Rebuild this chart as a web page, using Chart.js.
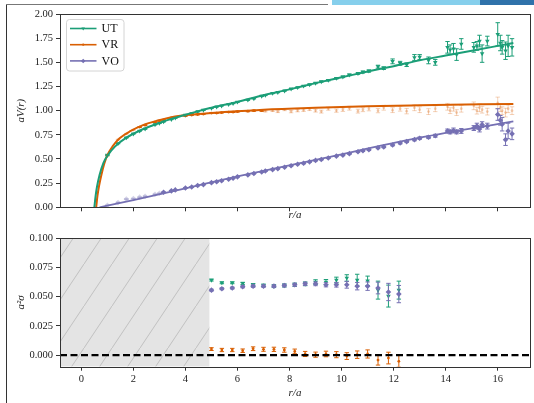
<!DOCTYPE html>
<html lang="en">
<head>
<meta charset="utf-8">
<title>aV(r) and a^2 sigma vs r/a</title>
<script src="https://cdn.jsdelivr.net/npm/chart.js@4.4.1/dist/chart.umd.min.js"></script>
<style>
  html, body { margin: 0; padding: 0; background: #fff; }
  #page { position: relative; width: 534px; height: 403px; overflow: hidden; background: #fff; }
  #page canvas { position: absolute; left: 0; }
  #cvTop { top: 0; }
  #cvBot { top: 222px; }
  .edge-left { position: absolute; left: 6px; top: 4px; width: 1px; height: 400px; background: #333; }
  .edge-top { position: absolute; left: 6px; top: 4px; width: 322px; height: 1px; background: #777; }
  .deco1 { position: absolute; left: 332px; top: 0; width: 210px; height: 5px; background: #86cfec; }
  .deco2 { position: absolute; left: 480px; top: 0; width: 60px; height: 5px; background: #2f72aa; }
</style>
</head>
<body>
<div id="page">
  <div class="edge-left"></div><div class="edge-top"></div>
  <div class="deco1"></div><div class="deco2"></div>
  <canvas id="cvTop" width="534" height="222"></canvas>
  <canvas id="cvBot" width="534" height="181"></canvas>
</div>
<script>
// ==========================================
// 1. Data
// ==========================================
// top panel: aV(r) for the three actions
const radii = [
  1.0, 1.41, 1.73, 2.0, 2.24, 2.45, 2.83, 3.0, 3.16, 3.46,
  3.61, 4.0, 4.24, 4.47, 4.69, 5.0, 5.2, 5.39, 5.66, 5.83,
  6.0, 6.4, 6.63, 6.93, 7.07, 7.35, 7.55, 7.81, 8.06, 8.31,
  8.54, 8.77, 9.0, 9.22, 9.49, 9.8, 10.05, 10.3, 10.63, 10.82,
  11.05, 11.4, 11.62, 11.96, 12.25, 12.5, 12.8, 13.0, 13.34, 13.6,
  14.07, 14.17, 14.3, 14.42, 14.6, 15.08, 15.2, 15.3, 15.4, 15.6,
  16.0, 16.1, 16.17, 16.3, 16.4, 16.55
];
const potUT = [
  0.54, 0.66, 0.72, 0.76, 0.79, 0.81, 0.855, 0.87, 0.885, 0.91,
  0.925, 0.955, 0.97, 0.99, 1.005, 1.025, 1.04, 1.05, 1.065, 1.075,
  1.09, 1.11, 1.125, 1.15, 1.16, 1.18, 1.19, 1.205, 1.225, 1.24,
  1.255, 1.27, 1.285, 1.30, 1.315, 1.335, 1.35, 1.37, 1.385, 1.40,
  1.41, 1.455, 1.44, 1.51, 1.49, 1.475, 1.55, 1.555, 1.52, 1.50,
  1.655, 1.63, 1.64, 1.58, 1.69, 1.655, 1.67, 1.72, 1.59, 1.72,
  1.79, 1.70, 1.655, 1.62, 1.67, 1.655
];
const errUT = [
  0.003, 0.003, 0.003, 0.003, 0.003, 0.003, 0.003, 0.003, 0.003, 0.003,
  0.003, 0.003, 0.003, 0.003, 0.003, 0.003, 0.003, 0.003, 0.003, 0.003,
  0.004, 0.004, 0.004, 0.004, 0.004, 0.004, 0.004, 0.004, 0.004, 0.004,
  0.005, 0.005, 0.006, 0.006, 0.007, 0.007, 0.008, 0.008, 0.009, 0.010,
  0.012, 0.015, 0.014, 0.025, 0.02, 0.018, 0.03, 0.025, 0.035, 0.03,
  0.06, 0.05, 0.055, 0.06, 0.055, 0.05, 0.045, 0.06, 0.09, 0.05,
  0.12, 0.08, 0.07, 0.09, 0.11, 0.09
];
const potVR = [
  0.53, 0.70, 0.76, 0.80, 0.83, 0.85, 0.88, 0.895, 0.905, 0.925,
  0.93, 0.945, 0.955, 0.96, 0.965, 0.975, 0.975, 0.98, 0.985, 0.985,
  0.99, 0.995, 1.0, 1.0, 0.995, 1.0, 0.99, 1.01, 0.99, 1.0,
  1.005, 1.015, 1.0, 0.99, 1.02, 1.0, 1.01, 1.025, 0.995, 1.01,
  1.02, 1.0, 1.03, 1.005, 1.02, 0.995, 1.03, 1.01, 0.99, 1.02,
  1.04, 1.0, 1.03, 0.98, 1.02, 1.05, 1.0, 1.03, 1.01, 0.99,
  1.08, 1.03, 1.0, 0.98, 1.02, 1.0
];
const errVR = [
  0.004, 0.004, 0.004, 0.004, 0.004, 0.004, 0.004, 0.004, 0.004, 0.004,
  0.004, 0.004, 0.004, 0.004, 0.004, 0.004, 0.004, 0.004, 0.004, 0.004,
  0.005, 0.006, 0.006, 0.007, 0.008, 0.009, 0.01, 0.01, 0.012, 0.012,
  0.013, 0.014, 0.015, 0.015, 0.016, 0.017, 0.018, 0.02, 0.02, 0.02,
  0.022, 0.022, 0.025, 0.025, 0.025, 0.028, 0.03, 0.03, 0.03, 0.03,
  0.035, 0.03, 0.035, 0.03, 0.035, 0.04, 0.035, 0.04, 0.035, 0.035,
  0.06, 0.04, 0.04, 0.045, 0.04, 0.04
];
const potVO = [
  0.02, 0.05, 0.085, 0.09, 0.105, 0.115, 0.135, 0.145, 0.155, 0.17,
  0.18, 0.20, 0.21, 0.225, 0.235, 0.255, 0.265, 0.275, 0.29, 0.30,
  0.315, 0.335, 0.35, 0.365, 0.375, 0.39, 0.40, 0.415, 0.43, 0.445,
  0.455, 0.47, 0.485, 0.495, 0.51, 0.53, 0.54, 0.555, 0.575, 0.585,
  0.595, 0.615, 0.625, 0.645, 0.665, 0.68, 0.70, 0.715, 0.725, 0.74,
  0.79, 0.78, 0.795, 0.78, 0.79, 0.82, 0.84, 0.81, 0.855, 0.84,
  0.96, 0.90, 0.86, 0.70, 0.79, 0.76
];
const errVO = [
  0.003, 0.003, 0.003, 0.003, 0.003, 0.003, 0.003, 0.003, 0.003, 0.003,
  0.003, 0.003, 0.003, 0.003, 0.003, 0.003, 0.003, 0.003, 0.003, 0.003,
  0.004, 0.004, 0.004, 0.004, 0.004, 0.004, 0.004, 0.004, 0.004, 0.004,
  0.005, 0.005, 0.005, 0.005, 0.005, 0.006, 0.006, 0.006, 0.006, 0.006,
  0.007, 0.008, 0.008, 0.009, 0.01, 0.01, 0.012, 0.012, 0.014, 0.015,
  0.02, 0.02, 0.025, 0.02, 0.025, 0.025, 0.03, 0.03, 0.03, 0.03,
  0.06, 0.05, 0.07, 0.06, 0.08, 0.06
];

// fitted curves (sampled by eye from the plotted lines)
const fitUTr = [0.50, 0.55, 0.60, 0.70, 0.85, 1.02, 1.3, 1.73, 2.3, 2.88, 3.4, 3.9, 4.5, 5, 6, 7, 8, 9, 10, 11, 12, 13, 14, 15, 16.6];
const fitUTv = [0.00, 0.12, 0.21, 0.334, 0.46, 0.54, 0.63, 0.72, 0.80, 0.86, 0.91, 0.95, 0.995, 1.03, 1.09, 1.16, 1.22, 1.285, 1.345, 1.405, 1.46, 1.52, 1.57, 1.62, 1.70];
const fitVRr = [0.57, 0.62, 0.68, 0.77, 0.88, 1.0, 1.2, 1.47, 1.9, 2.37, 2.9, 3.6, 4.5, 5.5, 7, 9, 11, 13, 16.6];
const fitVRv = [0.00, 0.12, 0.22, 0.334, 0.45, 0.54, 0.63, 0.714, 0.79, 0.85, 0.895, 0.94, 0.965, 0.985, 1.01, 1.03, 1.045, 1.055, 1.07];
const fitVOr = [0.7, 2, 4, 6, 9, 13, 16.6];
const fitVOv = [0.0, 0.075, 0.197, 0.32, 0.49, 0.72, 0.89];

// r ranges that entered each fit (points outside are drawn faint)
const fitRangeUT = [0, 17];
const fitRangeVR = [2.2, 7.0];
const fitRangeVO = [3.1, 17];

// bottom panel: a^2 sigma vs minimum r of the fit
const rMin = [5.0, 5.4, 5.8, 6.2, 6.6, 7.0, 7.4, 7.8, 8.2, 8.6, 9.0, 9.4, 9.8, 10.2, 10.6, 11.0, 11.4, 11.8, 12.2];
const sigUT = [0.0642, 0.0619, 0.0619, 0.0614, 0.0602, 0.0598, 0.059, 0.0596, 0.0602, 0.061, 0.0625, 0.0625, 0.0642, 0.066, 0.0642, 0.0636, 0.0556, 0.0505, 0.0556];
const errSigUT = [0.0008, 0.0008, 0.0008, 0.0009, 0.001, 0.001, 0.0012, 0.0013, 0.0014, 0.0016, 0.002, 0.0022, 0.0025, 0.0028, 0.005, 0.004, 0.0077, 0.0094, 0.0077];
const sigVR = [0.0051, 0.0043, 0.0043, 0.0037, 0.0054, 0.0049, 0.0049, 0.0043, 0.0031, 0.0009, 0.0003, 0.0009, 0.0003, -0.0009, 0.0003, 0.0009, -0.0043, -0.0026, -0.0054];
const errSigVR = [0.0012, 0.0014, 0.0014, 0.0015, 0.0016, 0.0017, 0.0018, 0.0019, 0.002, 0.0022, 0.0022, 0.0024, 0.0026, 0.0029, 0.0032, 0.0035, 0.0043, 0.005, 0.005];
const sigVO = [0.0556, 0.0568, 0.0574, 0.0585, 0.059, 0.059, 0.059, 0.0596, 0.0602, 0.061, 0.061, 0.0602, 0.0602, 0.0602, 0.059, 0.059, 0.0574, 0.054, 0.0522];
const errSigVO = [0.0008, 0.0008, 0.0008, 0.0009, 0.001, 0.001, 0.001, 0.0012, 0.0013, 0.0014, 0.0016, 0.0018, 0.002, 0.0029, 0.0032, 0.0036, 0.005, 0.0074, 0.0074];
const excludedR = [-0.82, 4.93];   // hatched band
const zeroLevel = 0;

// axes
const xLimits = [-0.82, 17.24];
const xTicks = [0, 2, 4, 6, 8, 10, 12, 14, 16];
const yTopLimits = [0, 2];
const yTopTicks = [0, 0.25, 0.5, 0.75, 1.0, 1.25, 1.5, 1.75, 2.0];
const yBotLimits = [-0.01, 0.1];
const yBotTicks = [0, 0.025, 0.05, 0.075, 0.1];

// ==========================================
// 2. Styles
// ==========================================
const C_UT = '#1b9e77', C_VR = '#d95f02', C_VO = '#7570b3';
const F_UT = 'rgba(27,158,119,0.3)', F_VR = 'rgba(217,95,2,0.28)', F_VO = 'rgba(117,112,179,0.3)';
const M_UT = { pointStyle: 'triangle', rotation: 180, pointRadius: 2.6 };
const M_VR = { pointStyle: 'circle', rotation: 0, pointRadius: 1.4 };
const M_VO = { pointStyle: 'rectRot', rotation: 0, pointRadius: 2.8 };

const SERIF = "'Liberation Serif', 'Times New Roman', serif";
Chart.defaults.font.family = SERIF;
Chart.defaults.font.size = 10.5;
Chart.defaults.color = '#222';

// ==========================================
// 3. Plugins: error bars, frame, legend
// ==========================================
const errorBars = {
  id: 'errorBars',
  beforeDatasetDraw(chart, args) {
    const ds = chart.data.datasets[args.index];
    if (!ds.errs) return;
    const { ctx, chartArea: a } = chart;
    const yScale = chart.scales.y;
    ctx.save();
    ctx.beginPath();
    ctx.rect(a.left, a.top, a.right - a.left, a.bottom - a.top);
    ctx.clip();
    ctx.strokeStyle = ds.borderColor;
    ctx.lineWidth = 1;
    args.meta.data.forEach((pt, i) => {
      const v = ds.data[i].y, e = ds.errs[i];
      const y1 = yScale.getPixelForValue(v - e);
      const y2 = yScale.getPixelForValue(v + e);
      ctx.beginPath();
      ctx.moveTo(pt.x, y1); ctx.lineTo(pt.x, y2);
      ctx.moveTo(pt.x - 2.2, y1); ctx.lineTo(pt.x + 2.2, y1);
      ctx.moveTo(pt.x - 2.2, y2); ctx.lineTo(pt.x + 2.2, y2);
      ctx.stroke();
    });
    ctx.restore();
  }
};

const frame = {
  id: 'frame',
  afterDatasetsDraw(chart) {
    const { ctx, chartArea: a } = chart;
    const l = Math.round(a.left) + 0.5, t = Math.round(a.top) + 0.5;
    const r = Math.round(a.right) + 0.5, b = Math.round(a.bottom) + 0.5;
    ctx.save();
    ctx.strokeStyle = '#333';
    ctx.lineWidth = 1;
    ctx.strokeRect(l, t, r - l, b - t);
    ctx.restore();
  }
};

const boxLegend = {
  id: 'boxLegend',
  afterDraw(chart) {
    const items = chart.data.datasets.filter(d => d.legendMarker);
    if (!items.length) return;
    const { ctx, chartArea: a } = chart;
    const x0 = a.left + 6.5, y0 = a.top + 5.5;
    ctx.save();
    ctx.beginPath();
    ctx.roundRect(x0, y0, 57.5, 51.5, 3);
    ctx.fillStyle = 'rgba(255,255,255,0.85)';
    ctx.fill();
    ctx.strokeStyle = '#d4d4d4';
    ctx.lineWidth = 1;
    ctx.stroke();
    items.forEach((ds, i) => {
      const y = y0 + 9 + i * 16.2;
      ctx.strokeStyle = ds.borderColor;
      ctx.lineWidth = 1.6;
      ctx.beginPath();
      ctx.moveTo(x0 + 3.5, y); ctx.lineTo(x0 + 30, y);
      ctx.stroke();
      ctx.fillStyle = ds.borderColor;
      const m = ds.legendMarker;
      Chart.helpers.drawPoint(ctx, { pointStyle: m.pointStyle, rotation: m.rotation, radius: m.pointRadius * 0.8, borderWidth: 0 }, x0 + 16.7, y);
      ctx.fillStyle = '#111';
      ctx.font = '12px ' + SERIF;
      ctx.textBaseline = 'middle';
      ctx.fillText(ds.label, x0 + 35, y + 0.5);
    });
    ctx.restore();
  }
};

// ==========================================
// 4. Dataset builders
// ==========================================
function pointSets(xs, vals, errs, color, faint, range, marker) {
  const inPts = [], inErr = [], outPts = [], outErr = [];
  xs.forEach((r, i) => {
    const p = { x: r, y: vals[i] };
    if (r >= range[0] && r <= range[1]) { inPts.push(p); inErr.push(errs[i]); }
    else { outPts.push(p); outErr.push(errs[i]); }
  });
  const common = { type: 'scatter', showLine: false, borderWidth: 0, ...marker };
  return [
    { ...common, data: inPts, errs: inErr, backgroundColor: color, borderColor: color, order: 2 },
    { ...common, data: outPts, errs: outErr, backgroundColor: faint, borderColor: faint, order: 3 }
  ];
}

function fitLine(label, rs, vs, color, width, marker) {
  return {
    type: 'line', label,
    data: rs.map((r, i) => ({ x: r, y: vs[i] })),
    borderColor: color, backgroundColor: color, borderWidth: width,
    pointRadius: 0, cubicInterpolationMode: 'monotone', fill: false,
    order: 1, legendMarker: marker
  };
}

function hatchPattern(ctx) {
  const w = 28, h = 42;
  const c = document.createElement('canvas');
  c.width = w; c.height = h;
  const g = c.getContext('2d');
  g.fillStyle = '#e4e4e4';
  g.fillRect(0, 0, w, h);
  g.strokeStyle = '#b8b8b8';
  g.lineWidth = 0.8;
  g.beginPath();
  g.moveTo(-w, 2 * h); g.lineTo(2 * w, -h);
  g.stroke();
  return ctx.createPattern(c, 'repeat');
}

function xScale(showLabels, titlePad) {
  return {
    type: 'linear', min: xLimits[0], max: xLimits[1],
    afterBuildTicks: s => { s.ticks = xTicks.map(v => ({ value: v })); },
    ticks: { display: showLabels, padding: 2.5, maxRotation: 0, font: { size: 10.5 } },
    grid: { drawOnChartArea: false, tickLength: 4, color: '#333', tickWidth: 1 },
    border: { display: false },
    title: { display: true, text: 'r/a', font: { size: 11, style: 'italic' }, padding: { top: 0, bottom: titlePad } },
    afterFit: s => { s.height = showLabels ? 36.3 : 14.7; }
  };
}

function yScale(lims, ticks, digits, title) {
  return {
    type: 'linear', min: lims[0], max: lims[1],
    afterBuildTicks: s => { s.ticks = ticks.map(v => ({ value: v })); },
    ticks: { padding: 3, callback: v => Number(v).toFixed(digits) },
    grid: { drawOnChartArea: false, tickLength: 4, color: '#333', tickWidth: 1 },
    border: { display: false },
    title: { display: true, text: title, font: { size: 11, style: 'italic' }, padding: { top: 15, bottom: 0 } },
    afterFit: s => { s.width = 60; }
  };
}

// ==========================================
// 5. Top panel: aV(r)
// ==========================================
new Chart(document.getElementById('cvTop'), {
  type: 'scatter',
  data: {
    datasets: [
      fitLine('UT', fitUTr, fitUTv, C_UT, 2, M_UT),
      fitLine('VR', fitVRr, fitVRv, C_VR, 2, M_VR),
      fitLine('VO', fitVOr, fitVOv, C_VO, 1.8, M_VO),
      ...pointSets(radii, potUT, errUT, C_UT, F_UT, fitRangeUT, M_UT),
      ...pointSets(radii, potVR, errVR, C_VR, F_VR, fitRangeVR, M_VR),
      ...pointSets(radii, potVO, errVO, C_VO, F_VO, fitRangeVO, M_VO)
    ]
  },
  options: {
    responsive: false,
    animation: false,
    layout: { padding: { top: 14, right: 4, left: 0, bottom: 0 } },
    plugins: { legend: { display: false }, tooltip: { enabled: false } },
    scales: {
      x: xScale(false, 0),
      y: yScale(yTopLimits, yTopTicks, 2, 'aV(r)')
    }
  },
  plugins: [errorBars, frame, boxLegend]
});

// ==========================================
// 6. Bottom panel: a^2 sigma
// ==========================================
const botCanvas = document.getElementById('cvBot');
const band = excludedR.map(r => ({ x: r, y: yBotLimits[1] }));
const zeroLine = xLimits.map(r => ({ x: r, y: zeroLevel }));
const asPts = (ys) => rMin.map((r, i) => ({ x: r, y: ys[i] }));

new Chart(botCanvas, {
  type: 'scatter',
  data: {
    datasets: [
      { type: 'line', data: band, borderWidth: 0, pointRadius: 0, fill: 'start',
        backgroundColor: hatchPattern(botCanvas.getContext('2d')), order: 10 },
      { type: 'line', data: zeroLine, borderColor: '#000', borderWidth: 2.2, borderDash: [7, 3.5],
        pointRadius: 0, fill: false, order: 1 },
      { ...M_UT, showLine: false, borderWidth: 0, data: asPts(sigUT), errs: errSigUT, backgroundColor: C_UT, borderColor: C_UT, order: 3 },
      { ...M_VO, showLine: false, borderWidth: 0, data: asPts(sigVO), errs: errSigVO, backgroundColor: C_VO, borderColor: C_VO, order: 2 },
      { ...M_VR, showLine: false, borderWidth: 0, data: asPts(sigVR), errs: errSigVR, backgroundColor: C_VR, borderColor: C_VR, order: 2 }
    ]
  },
  options: {
    responsive: false,
    animation: false,
    layout: { padding: { top: 16.3, right: 4, left: 0, bottom: 0 } },
    plugins: { legend: { display: false }, tooltip: { enabled: false } },
    scales: {
      x: xScale(true, 3.4),
      y: yScale(yBotLimits, yBotTicks, 3, 'a²σ')
    }
  },
  plugins: [errorBars, frame]
});
</script>
</body>
</html>
